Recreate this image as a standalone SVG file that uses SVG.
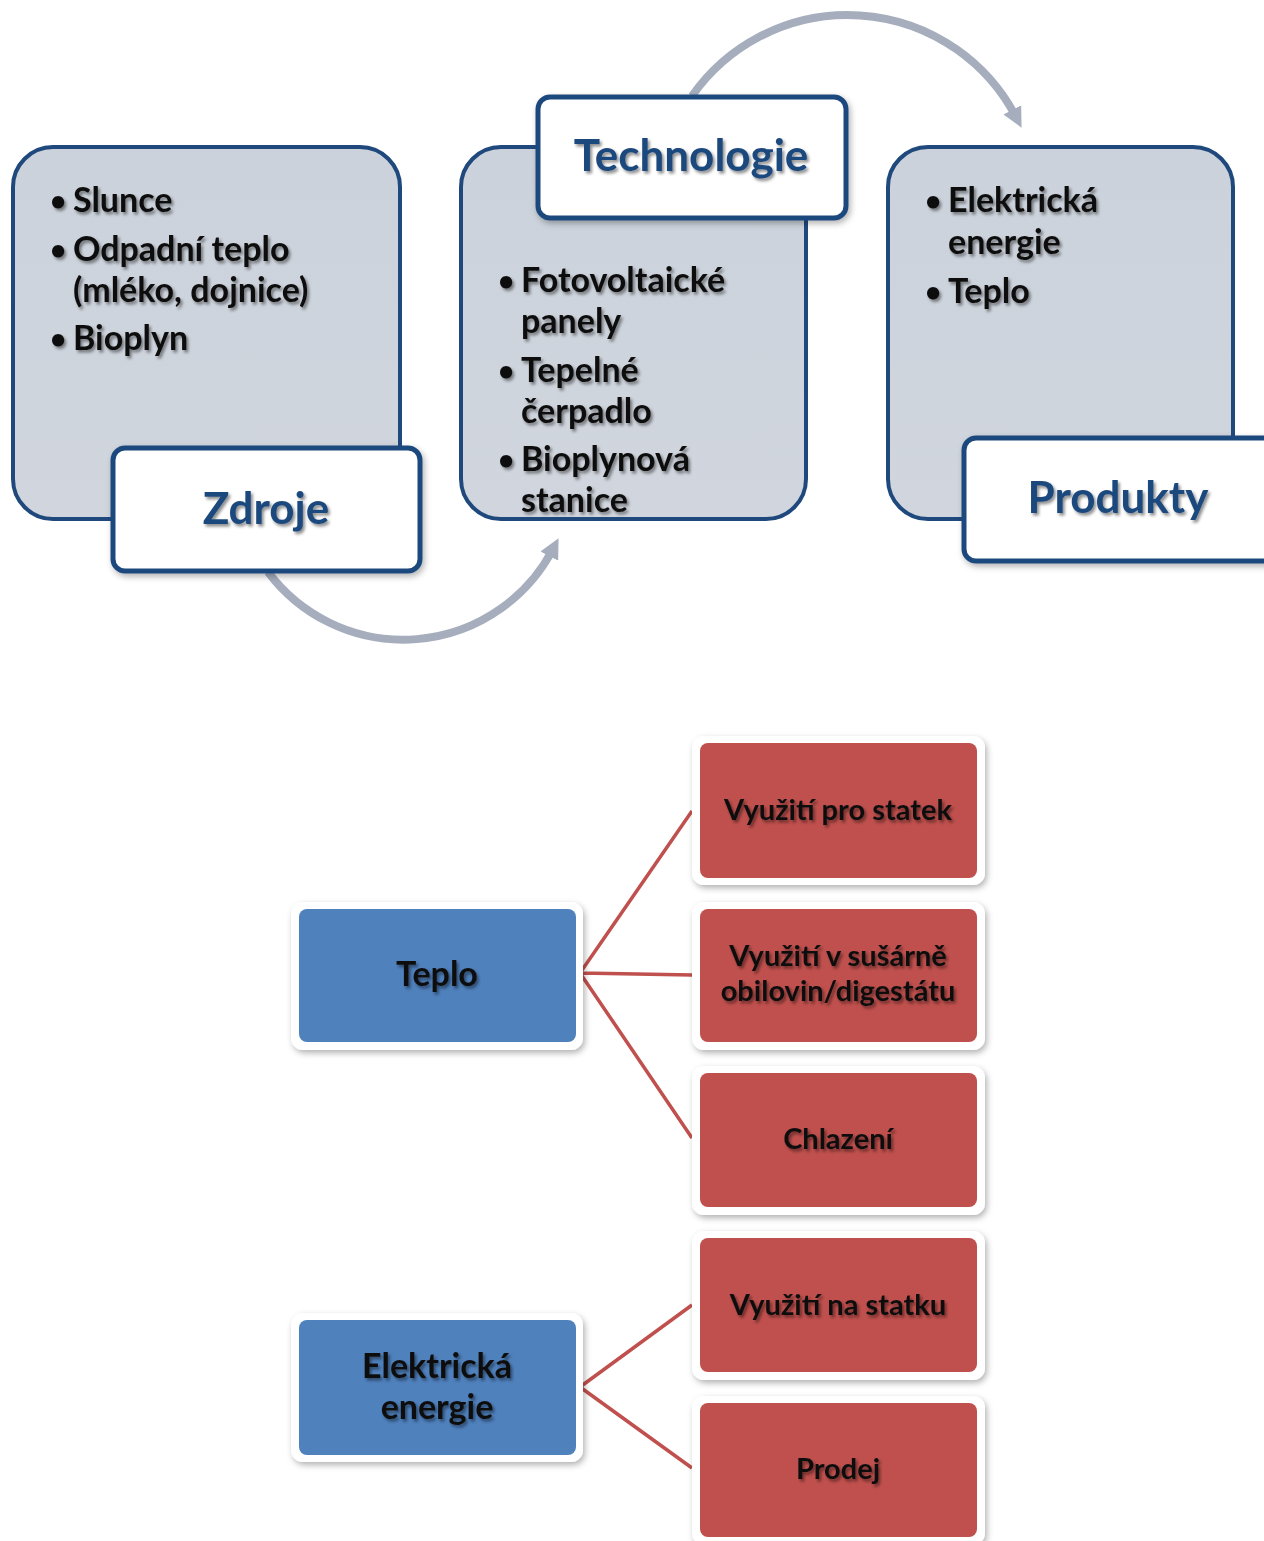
<svg xmlns="http://www.w3.org/2000/svg" width="1264" height="1541" viewBox="0 0 1264 1541">
<defs>
<filter id="ts" x="-10%" y="-30%" width="130%" height="170%"><feDropShadow dx="2" dy="2.5" stdDeviation="1.5" flood-color="#000" flood-opacity="0.45"/></filter>
<filter id="bs" x="-10%" y="-10%" width="130%" height="130%"><feDropShadow dx="2" dy="3" stdDeviation="3" flood-color="#000" flood-opacity="0.3"/></filter>
<linearGradient id="gg" x1="0" y1="0" x2="0" y2="1"><stop offset="0" stop-color="#CBD2DB"/><stop offset="1" stop-color="#D1D6DE"/></linearGradient>
<marker id="ah" markerUnits="userSpaceOnUse" markerWidth="30" markerHeight="30" viewBox="0 0 30 30" refX="8" refY="15" orient="auto"><path d="M0,5 L20,15 L0,25 Z" fill="#A6AEBE"/></marker>
</defs>
<style>
.panel{fill:url(#gg);stroke:#1F497D;stroke-width:4}
.label{fill:#fff;stroke:#1F497D;stroke-width:5}
.lt{font-family:Lato,"Liberation Sans",sans-serif;font-weight:700;font-size:44px;fill:#1F497D;text-anchor:middle;filter:url(#ts)}
.bt{font-family:Lato,"Liberation Sans",sans-serif;font-weight:700;font-size:34px;fill:#111;filter:url(#ts)}
.bu{font-family:Lato,"Liberation Sans",sans-serif;font-weight:700;font-size:28px;fill:#111;filter:url(#ts)}
.arc{fill:none;stroke:#A6AEBE;stroke-width:8}
.link{fill:none;stroke:#C0504D;stroke-width:3.5}
.wb{fill:#fff;filter:url(#bs)}
.blue{fill:#4F81BD}
.red{fill:#C0504D}
.nt{font-family:Lato,"Liberation Sans",sans-serif;font-weight:700;font-size:29px;fill:#111;text-anchor:middle;filter:url(#ts)}
.nb{font-family:Lato,"Liberation Sans",sans-serif;font-weight:700;font-size:34px;fill:#111;text-anchor:middle;filter:url(#ts)}
</style>
<rect width="1264" height="1541" fill="#fff"/>
<g id="connectors">
<path class="arc" d="M268,572 A169,169 0 0 0 553,549" marker-end="url(#ah)"/>
<path class="arc" d="M692,96 A190,190 0 0 1 1016,117" marker-end="url(#ah)"/>
<path class="link" d="M580,973 L692,811 M580,973 L692,975 M580,973 L692,1138 M580,1387 L692,1305 M580,1387 L692,1468"/>
</g>
<g id="zdroje">
<rect class="panel" x="13" y="147" width="387" height="372" rx="40"/>
<text class="bu" x="50" y="211">•</text>
<text class="bt" x="73" y="212">Slunce</text>
<text class="bu" x="50" y="260">•</text>
<text class="bt" x="73" y="261">Odpadní teplo</text>
<text class="bt" x="73" y="302">(mléko, dojnice)</text>
<text class="bu" x="50" y="349">•</text>
<text class="bt" x="73" y="350">Bioplyn</text>
<g filter="url(#bs)"><rect class="label" x="113" y="448" width="307" height="123" rx="12"/></g>
<text class="lt" x="266" y="524">Zdroje</text>
</g>
<g id="technologie">
<rect class="panel" x="461" y="147" width="345" height="372" rx="40"/>
<text class="bu" x="498" y="291">•</text>
<text class="bt" x="521" y="292">Fotovoltaické</text>
<text class="bt" x="521" y="333">panely</text>
<text class="bu" x="498" y="381">•</text>
<text class="bt" x="521" y="382">Tepelné</text>
<text class="bt" x="521" y="423">čerpadlo</text>
<text class="bu" x="498" y="470">•</text>
<text class="bt" x="521" y="471">Bioplynová</text>
<text class="bt" x="521" y="512">stanice</text>
<g filter="url(#bs)"><rect class="label" x="538" y="97" width="308" height="121" rx="12"/></g>
<text class="lt" x="691" y="171">Technologie</text>
</g>
<g id="produkty">
<rect class="panel" x="888" y="147" width="345" height="372" rx="40"/>
<text class="bu" x="925" y="211">•</text>
<text class="bt" x="948" y="212">Elektrická</text>
<text class="bt" x="948" y="254">energie</text>
<text class="bu" x="925" y="302">•</text>
<text class="bt" x="948" y="303">Teplo</text>
<g filter="url(#bs)"><rect class="label" x="964" y="438" width="320" height="123" rx="12"/></g>
<text class="lt" x="1118" y="513">Produkty</text>
</g>
<g id="teplo">
<rect class="wb" x="291" y="902" width="292" height="148" rx="12"/>
<rect class="blue" x="299" y="909" width="277" height="133" rx="8"/>
<text class="nb" x="437" y="986">Teplo</text>
</g>
<g id="elektricka-energie">
<rect class="wb" x="291" y="1313" width="292" height="149" rx="12"/>
<rect class="blue" x="299" y="1320" width="277" height="135" rx="8"/>
<text class="nb" x="437" y="1378">Elektrická</text>
<text class="nb" x="437" y="1419">energie</text>
</g>
<g id="vyuziti-pro-statek">
<rect class="wb" x="692" y="736" width="293" height="149" rx="12"/>
<rect class="red" x="700" y="743" width="277" height="135" rx="8"/>
<text class="nt" x="838" y="820">Využití pro statek</text>
</g>
<g id="vyuziti-v-susarne">
<rect class="wb" x="692" y="902" width="293" height="148" rx="12"/>
<rect class="red" x="700" y="909" width="277" height="133" rx="8"/>
<text class="nt" x="838" y="966">Využití v sušárně</text>
<text class="nt" x="838" y="1001">obilovin/digestátu</text>
</g>
<g id="chlazeni">
<rect class="wb" x="692" y="1066" width="293" height="149" rx="12"/>
<rect class="red" x="700" y="1073" width="277" height="134" rx="8"/>
<text class="nt" x="838" y="1149">Chlazení</text>
</g>
<g id="vyuziti-na-statku">
<rect class="wb" x="692" y="1231" width="293" height="149" rx="12"/>
<rect class="red" x="700" y="1238" width="277" height="134" rx="8"/>
<text class="nt" x="838" y="1315">Využití na statku</text>
</g>
<g id="prodej">
<rect class="wb" x="692" y="1396" width="293" height="149" rx="12"/>
<rect class="red" x="700" y="1403" width="277" height="134" rx="8"/>
<text class="nt" x="838" y="1479">Prodej</text>
</g>
</svg>
